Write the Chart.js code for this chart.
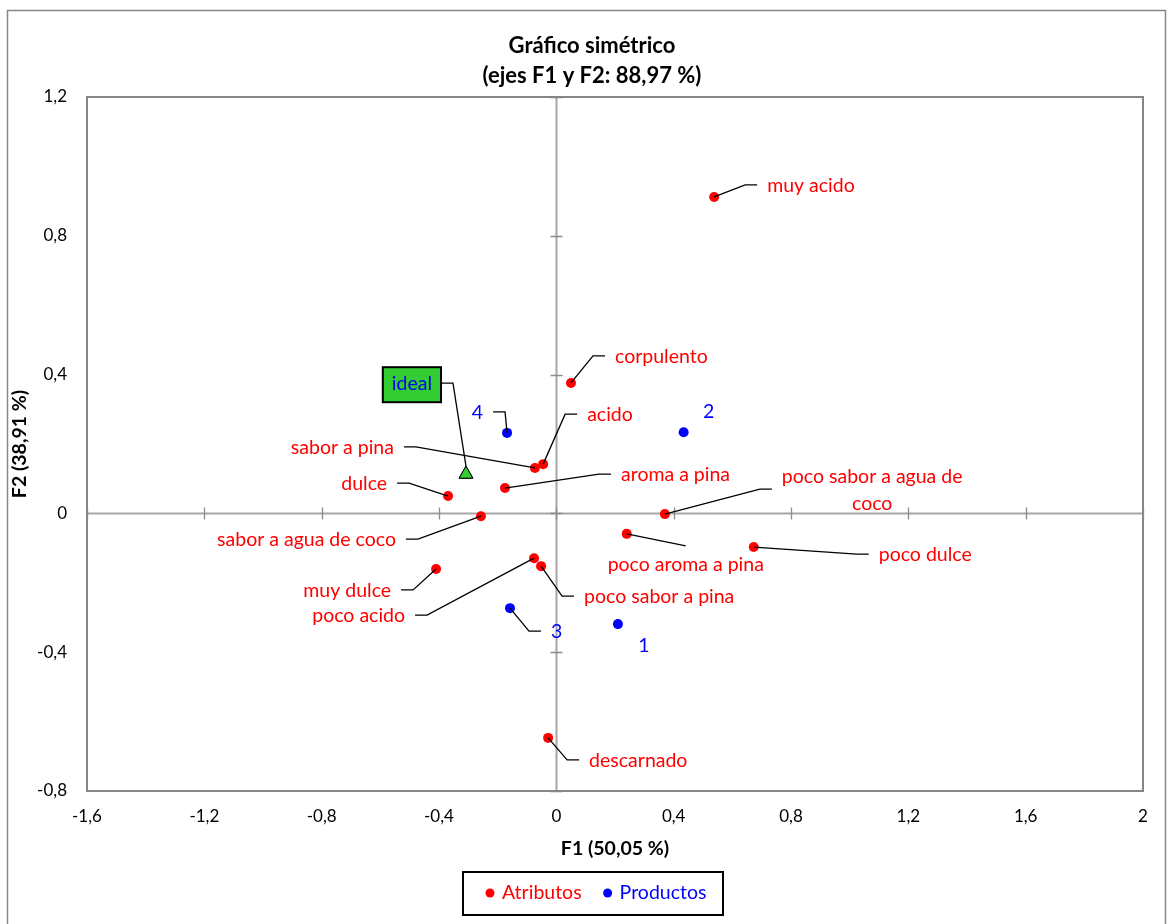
<!DOCTYPE html>
<html>
<head>
<meta charset="utf-8">
<script src="https://cdn.jsdelivr.net/npm/chart.js@4/dist/chart.umd.min.js"></script>
<style>
  html, body { margin: 0; padding: 0; background: #fff; }
</style>
</head>
<body>
<canvas id="chart" width="1170" height="924"></canvas>
<script>
// --- data ---
const attrNames = ['muy acido', 'corpulento', 'acido', 'sabor a pina', 'dulce', 'aroma a pina',
  'sabor a agua de coco', 'poco sabor a agua de coco', 'poco aroma a pina', 'poco dulce',
  'muy dulce', 'poco acido', 'poco sabor a pina', 'descarnado'];
const attrF1 = [0.538, 0.050, -0.045, -0.073, -0.369, -0.175, -0.257, 0.370, 0.240, 0.673, -0.410, -0.076, -0.052, -0.028];
const attrF2 = [0.912, 0.376, 0.142, 0.131, 0.050, 0.073, -0.008, -0.002, -0.059, -0.097, -0.160, -0.129, -0.152, -0.647];

const prodNames = ['1', '2', '3', '4'];
const prodF1 = [0.210, 0.434, -0.158, -0.168];
const prodF2 = [-0.319, 0.234, -0.273, 0.232];

const idealNames = ['ideal'];
const idealF1 = [-0.308];
const idealF2 = [0.113];

const xRange = [-1.6, 2];
const yRange = [-0.8, 1.2];
const tickStep = 0.4;

// label placement: offset from the point in px, alignment, leader style
const attrLabelPos = [
  [53, -11, 'left', 'elbow'],
  [44, -26, 'left', 'elbow'],
  [44, -49, 'left', 'elbow'],
  [-141, -20, 'right', 'elbow'],
  [-61, -12, 'right', 'elbow'],
  [116, -13, 'left', 'elbow'],
  [-85, 24, 'right', 'elbow'],
  [117, -24, 'block', 'elbow'],
  [59, 31, 'center', 'top'],
  [125, 8, 'left', 'elbow'],
  [-45, 22, 'right', 'elbow'],
  [-129, 58, 'right', 'elbow'],
  [43, 31, 'left', 'elbow'],
  [41, 23, 'left', 'elbow']
];
const prodLabelPos = [
  [26, 22, 'center', 'none'],
  [25, -20, 'center', 'none'],
  [41, 24, 'left', 'elbow'],
  [-24, -20, 'right', 'elbow']
];
const idealLabelPos = [[-34, -90, 'right', 'box']];

const FONT = 'Lato, "Open Sans", sans-serif';
const RED = '#ff0000', BLUE = '#0000ff', GREEN = '#33cc33';

function fmt(v) {
  v = Math.round(v * 10) / 10;
  return String(v).replace('.', ',');
}
function pts(xs, ys) { return xs.map((x, i) => ({ x: x, y: ys[i] })); }

function drawLabel(ctx, px, py, text, pos, color) {
  const [dx, dy, align, leader] = pos;
  const lx = px + dx, ly = py + dy;
  ctx.font = '19.5px ' + FONT;
  ctx.textBaseline = 'middle';
  ctx.strokeStyle = '#000';
  ctx.lineWidth = 1.3;
  let edgeL = lx, edgeR = lx;
  if (align === 'block') {
    // two-line wrapped label, lines centred in the block
    const words = text.split(' ');
    const lines = [words.slice(0, -1).join(' '), words[words.length - 1]];
    const w = Math.max(...lines.map(l => ctx.measureText(l).width));
    ctx.fillStyle = color;
    ctx.textAlign = 'center';
    lines.forEach((l, i) => ctx.fillText(l, lx + w / 2, ly + (i - 0.5) * 27));
    edgeL = lx; edgeR = lx + w;
  } else {
    const w = ctx.measureText(text).width;
    if (align === 'left') { edgeL = lx; edgeR = lx + w; }
    else if (align === 'right') { edgeL = lx - w; edgeR = lx; }
    else { edgeL = lx - w / 2; edgeR = lx + w / 2; }
    if (leader === 'box') {
      ctx.fillStyle = GREEN;
      ctx.fillRect(edgeL - 9, ly - 17, w + 18, 35);
      ctx.lineWidth = 2;
      ctx.strokeRect(edgeL - 9, ly - 17, w + 18, 35);
      ctx.lineWidth = 1.3;
    }
    ctx.fillStyle = color;
    ctx.textAlign = align;
    ctx.fillText(text, lx, ly);
  }
  ctx.beginPath();
  if (leader === 'elbow' || leader === 'box') {
    const target = leader === 'box' ? py - 8 : py;
    const right = (px > edgeR);
    const g = leader === 'box' ? 9 : 10;
    const end = right ? edgeR + g : edgeL - g;
    const elbow = right ? end + 12 : end - 12;
    ctx.moveTo(end, ly - 1);
    ctx.lineTo(elbow, ly - 1);
    ctx.lineTo(px, target);
    ctx.stroke();
  } else if (leader === 'top') {
    ctx.moveTo(lx, ly - 19);
    ctx.lineTo(px, py);
    ctx.stroke();
  }
}

const decor = {
  id: 'decor',
  beforeDatasetsDraw(chart) {
    const ctx = chart.ctx, a = chart.chartArea;
    const xs = chart.scales.x, ys = chart.scales.y;
    ctx.save();
    // zero axes with cross ticks
    const x0 = Math.round(xs.getPixelForValue(0)) + 0.5;
    const y0 = Math.round(ys.getPixelForValue(0)) + 0.5;
    ctx.strokeStyle = '#a6a6a6';
    ctx.lineWidth = 2;
    ctx.beginPath();
    ctx.moveTo(a.left, y0); ctx.lineTo(a.right, y0);
    ctx.moveTo(x0, a.top); ctx.lineTo(x0, a.bottom);
    ctx.stroke();
    ctx.strokeStyle = '#8c8c8c';
    ctx.lineWidth = 1.3;
    ctx.beginPath();
    xs.ticks.forEach(t => {
      const p = Math.round(xs.getPixelForValue(t.value)) + 0.5;
      ctx.moveTo(p, y0 - 6); ctx.lineTo(p, y0 + 6);
    });
    ys.ticks.forEach(t => {
      const p = Math.round(ys.getPixelForValue(t.value)) + 0.5;
      ctx.moveTo(x0 - 6, p); ctx.lineTo(x0 + 6, p);
    });
    ctx.stroke();
    // plot frame
    ctx.strokeStyle = '#868686';
    ctx.lineWidth = 2;
    ctx.strokeRect(a.left, a.top, a.right - a.left, a.bottom - a.top);
    ctx.restore();
  },
  afterDatasetsDraw(chart) {
    const ctx = chart.ctx, a = chart.chartArea;
    ctx.save();
    const sets = [[0, attrNames, attrLabelPos, RED], [1, prodNames, prodLabelPos, BLUE], [2, idealNames, idealLabelPos, BLUE]];
    sets.forEach(([di, names, pos, col]) => {
      chart.getDatasetMeta(di).data.forEach((el, i) => {
        drawLabel(ctx, el.x, el.y, names[i], pos[i], col);
      });
    });
    // redraw the ideal marker above its leader
    chart.getDatasetMeta(2).data.forEach(el => el.draw(ctx));

    // title
    ctx.fillStyle = '#000';
    ctx.textAlign = 'center';
    ctx.textBaseline = 'middle';
    ctx.font = 'bold 22px ' + FONT;
    ctx.fillText('Gráfico simétrico', 592, 46);
    ctx.fillText('(ejes F1 y F2: 88,97 %)', 592, 76);
    // axis titles
    ctx.font = 'bold 19.5px ' + FONT;
    ctx.fillText('F1 (50,05 %)', 615, 849);
    ctx.save();
    ctx.translate(20, 444);
    ctx.rotate(-Math.PI / 2);
    ctx.fillText('F2 (38,91 %)', 0, 0);
    ctx.restore();

    // legend
    ctx.strokeStyle = '#000';
    ctx.lineWidth = 2;
    ctx.strokeRect(463, 872, 260, 43);
    ctx.font = '19.5px ' + FONT;
    ctx.textAlign = 'left';
    let lx = 490;
    chart.data.datasets.slice(0, 2).forEach(ds => {
      ctx.fillStyle = ds.backgroundColor;
      ctx.beginPath();
      ctx.arc(lx, 893, 4.5, 0, Math.PI * 2);
      ctx.fill();
      ctx.fillText(ds.label, lx + 12, 893);
      lx += 12 + ctx.measureText(ds.label).width + 26;
    });

    // outer frame
    ctx.strokeStyle = '#868686';
    ctx.lineWidth = 1.5;
    ctx.strokeRect(7.5, 10.5, 1158, 930);
    ctx.restore();
  }
};

new Chart(document.getElementById('chart').getContext('2d'), {
  type: 'scatter',
  data: {
    datasets: [
      { label: 'Atributos', data: pts(attrF1, attrF2), backgroundColor: RED, borderColor: RED,
        pointRadius: 5, borderWidth: 0 },
      { label: 'Productos', data: pts(prodF1, prodF2), backgroundColor: BLUE, borderColor: BLUE,
        pointRadius: 5, borderWidth: 0 },
      { label: 'ideal', data: pts(idealF1, idealF2), pointStyle: 'triangle', backgroundColor: GREEN,
        borderColor: '#000', borderWidth: 1, pointRadius: 8 }
    ]
  },
  options: {
    responsive: false,
    animation: false,
    layout: { padding: { top: 97, right: 27, left: 0, bottom: 0 } },
    plugins: { legend: { display: false }, tooltip: { enabled: false }, title: { display: false } },
    scales: {
      x: {
        type: 'linear', min: xRange[0], max: xRange[1],
        grid: { display: false, drawTicks: false },
        border: { display: false },
        ticks: { stepSize: tickStep, callback: fmt, color: '#000', padding: 15,
          font: { family: FONT, size: 17 } },
        afterFit(s) { s.height = 133; }
      },
      y: {
        type: 'linear', min: yRange[0], max: yRange[1],
        grid: { display: false, drawTicks: false },
        border: { display: false },
        ticks: { stepSize: tickStep, callback: fmt, color: '#000', padding: 20,
          font: { family: FONT, size: 17 } },
        afterFit(s) { s.width = 87; }
      }
    }
  },
  plugins: [decor]
});
</script>
</body>
</html>
